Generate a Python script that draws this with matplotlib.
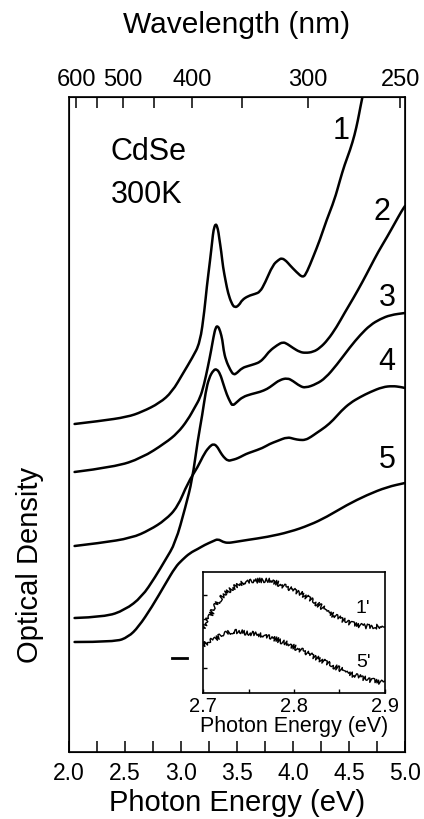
import matplotlib
matplotlib.use("Agg")
import matplotlib.pyplot as plt
from matplotlib.ticker import MultipleLocator, FixedLocator, FormatStrFormatter
from matplotlib.path import Path
from matplotlib.patches import PathPatch

plt.rcParams['font.family'] = ['Liberation Sans', 'DejaVu Sans']

# absorption spectra, photon energy (eV) vs optical density (offset, arb. units)
e1 = [2.05, 2.28, 2.52, 2.65, 2.81, 2.92, 3.02, 3.10, 3.17, 3.21, 3.23, 3.26, 3.28, 3.29,
      3.31, 3.33, 3.34, 3.36, 3.375, 3.40, 3.42, 3.45, 3.48, 3.52, 3.545, 3.60, 3.66, 3.705, 3.75,
      3.82, 3.87, 3.90, 3.94, 3.97, 4.03, 4.09, 4.125, 4.18, 4.24, 4.30, 4.37, 4.42, 4.46, 4.51,
      4.55, 4.58, 4.60, 4.62]
od1 = [3.28, 3.31, 3.35, 3.40, 3.49, 3.60, 3.79, 3.94, 4.09, 4.42, 4.65, 4.92, 5.12, 5.22,
       5.29, 5.23, 5.15, 5.00, 4.85, 4.70, 4.59, 4.49, 4.44, 4.47, 4.52, 4.56, 4.58, 4.60, 4.69,
       4.87, 4.92, 4.94, 4.91, 4.87, 4.80, 4.74, 4.80, 4.95, 5.12, 5.32, 5.52, 5.72, 5.87, 6.02,
       6.17, 6.32, 6.44, 6.55]

e2 = [2.05, 2.41, 2.65, 2.86, 2.97, 3.06, 3.125, 3.17, 3.205, 3.24, 3.27, 3.29, 3.31, 3.33, 3.35,
      3.37, 3.38, 3.40, 3.44, 3.47, 3.50, 3.545, 3.60, 3.66, 3.705, 3.75, 3.79, 3.86, 3.91, 3.95,
      4.00, 4.06, 4.11, 4.18, 4.24, 4.31, 4.39, 4.46, 4.54, 4.62, 4.69, 4.76, 4.84, 4.91, 4.97, 5.00]
od2 = [2.80, 2.85, 2.94, 3.09, 3.19, 3.32, 3.45, 3.54, 3.67, 3.85, 4.02, 4.15, 4.25, 4.26, 4.21,
       4.12, 4.02, 3.92, 3.82, 3.77, 3.79, 3.84, 3.86, 3.88, 3.90, 3.95, 4.01, 4.07, 4.10, 4.08,
       4.04, 4.00, 3.99, 4.00, 4.04, 4.12, 4.25, 4.39, 4.54, 4.70, 4.85, 5.00, 5.15, 5.29, 5.41, 5.46]

e3 = [2.05, 2.32, 2.50, 2.65, 2.77, 2.86, 2.95, 3.04, 3.10, 3.15, 3.19, 3.22, 3.25, 3.29, 3.32,
      3.35, 3.375, 3.41, 3.44, 3.46, 3.50, 3.55, 3.63, 3.705, 3.77, 3.82, 3.88, 3.95, 4.00, 4.06,
      4.11, 4.21, 4.29, 4.39, 4.51, 4.60, 4.69, 4.78, 4.87, 5.00]
od3 = [1.34, 1.35, 1.42, 1.55, 1.75, 1.92, 2.09, 2.45, 2.72, 3.12, 3.37, 3.60, 3.74, 3.82, 3.83,
       3.78, 3.69, 3.57, 3.50, 3.46, 3.50, 3.55, 3.58, 3.60, 3.63, 3.67, 3.72, 3.74, 3.71, 3.66,
       3.64, 3.68, 3.74, 3.87, 4.05, 4.17, 4.27, 4.33, 4.37, 4.39]

e4 = [2.05, 2.28, 2.56, 2.72, 2.86, 2.97, 3.06, 3.15, 3.21, 3.26, 3.29, 3.32, 3.35, 3.38, 3.42,
      3.455, 3.49, 3.53, 3.58, 3.63, 3.73, 3.79, 3.86, 3.95, 4.01, 4.06, 4.11, 4.16, 4.21, 4.29,
      4.36, 4.43, 4.51, 4.60, 4.69, 4.80, 4.89, 4.96, 5.00]
od4 = [2.06, 2.09, 2.14, 2.22, 2.32, 2.45, 2.69, 2.85, 2.99, 3.06, 3.08, 3.06, 3.00, 2.95, 2.91,
       2.92, 2.93, 2.95, 2.98, 3.00, 3.04, 3.08, 3.11, 3.15, 3.13, 3.12, 3.12, 3.15, 3.19, 3.25,
       3.32, 3.41, 3.49, 3.55, 3.60, 3.65, 3.66, 3.65, 3.64]

e5 = [2.05, 2.41, 2.53, 2.62, 2.74, 2.86, 2.95, 3.01, 3.08, 3.15, 3.21, 3.29, 3.33, 3.375, 3.42,
      3.48, 3.59, 3.77, 3.97, 4.15, 4.30, 4.48, 4.66, 4.84, 5.00]
od5 = [1.10, 1.10, 1.15, 1.25, 1.45, 1.68, 1.85, 1.92, 1.99, 2.03, 2.07, 2.11, 2.13, 2.10, 2.09,
       2.10, 2.12, 2.15, 2.20, 2.27, 2.35, 2.47, 2.57, 2.65, 2.69]

# inset: spectra 1' and 5' near the band edge
ei1 = [2.700, 2.708, 2.719, 2.730, 2.744, 2.755, 2.766, 2.777, 2.788, 2.807, 2.821, 2.832, 2.843,
       2.854, 2.865, 2.876, 2.887, 2.900]
yi1 = [2.63, 3.16, 3.86, 4.23, 4.48, 4.56, 4.60, 4.56, 4.36, 4.07, 3.74, 3.45, 3.16, 2.96, 2.79,
       2.71, 2.67, 2.75]
ei5 = [2.700, 2.719, 2.733, 2.752, 2.777, 2.796, 2.821, 2.843, 2.865, 2.884, 2.900]
yi5 = [1.93, 2.30, 2.51, 2.42, 2.22, 1.93, 1.48, 1.07, 0.70, 0.49, 0.37]

curves = [(e1, od1), (e2, od2), (e3, od3), (e4, od4), (e5, od5)]
labels = ['1', '2', '3', '4', '5']
label_e = [4.43, 4.79, 4.84, 4.84, 4.84]
label_od = [6.21, 5.40, 4.54, 3.90, 2.92]

wl_major = [600, 500, 400, 300, 250]
wl_minor = [550, 450, 350]

scale_bar_e = [2.92, 3.05]
scale_bar_od = [0.94, 0.94]


def smooth_path(xs, ys):
    # quadratic bezier through the midpoints, data points act as control points
    verts = [(xs[0], ys[0])]
    codes = [Path.MOVETO]
    for i in range(1, len(xs) - 1):
        verts.append((xs[i], ys[i]))
        verts.append(((xs[i] + xs[i + 1]) / 2, (ys[i] + ys[i + 1]) / 2))
        codes += [Path.CURVE3, Path.CURVE3]
    verts.append((xs[-1], ys[-1]))
    codes.append(Path.LINETO)
    return Path(verts, codes)


fig = plt.figure(figsize=(4.24, 8.19), dpi=100)
ax = fig.add_axes([0.1627, 0.0818, 0.7925, 0.7998])

for e, od in curves:
    ax.add_patch(PathPatch(smooth_path(e, od), facecolor='none', edgecolor='black', lw=1.8,
                           capstyle='round', joinstyle='round'))
for lab, x, y in zip(labels, label_e, label_od):
    ax.text(x, y, lab, fontsize=22, ha='center', va='center')
ax.plot(scale_bar_e, scale_bar_od, color='black', lw=2)

ax.text(2.37, 6.00, 'CdSe', fontsize=22, va='center')
ax.text(2.37, 5.57, '300K', fontsize=22, va='center')

ax.set_xlim(2.0, 5.0)
ax.set_ylim(0, 6.55)
ax.set_yticks([])
ax.xaxis.set_major_locator(MultipleLocator(0.5))
ax.xaxis.set_minor_locator(MultipleLocator(0.25))
ax.xaxis.set_major_formatter(FormatStrFormatter('%.1f'))
ax.tick_params(axis='x', which='both', direction='in', length=8, width=1.1, labelsize=16.5, pad=7)
for sp in ax.spines.values():
    sp.set_linewidth(1.2)

# wavelength axis on top
ax2 = ax.twiny()
ax2.set_xlim(2.0, 5.0)
ax2.set_xticks([1239.84 / w for w in wl_major])
ax2.set_xticklabels([str(w) for w in wl_major])
ax2.xaxis.set_minor_locator(FixedLocator([1239.84 / w for w in wl_minor]))
ax2.tick_params(axis='x', which='both', direction='in', length=8, width=1.1, labelsize=17, pad=4)

fig.text(0.559, 1 - 25 / 819, 'Wavelength (nm)', fontsize=21.5, ha='center', va='center')
fig.text(0.559, 1 - 803 / 819, 'Photon Energy (eV)', fontsize=21, ha='center', va='center')
fig.text(30 / 424, 1 - 565 / 819, 'Optical Density', fontsize=21, ha='center', va='center',
         rotation=90)

# inset
ins = fig.add_axes([0.4788, 0.1538, 0.4292, 0.1477])
for e, y in [(ei1, yi1), (ei5, yi5)]:
    ln, = ins.plot(e, y, color='black', lw=1.0)
    ln.set_sketch_params(scale=2.4, length=1.0, randomness=3)
ins.text(2.876, 3.45, "1'", fontsize=14, ha='center', va='center')
ins.text(2.876, 1.20, "5'", fontsize=14, ha='center', va='center')
ins.set_xlim(2.7, 2.9)
ins.set_ylim(-0.04, 4.93)
ins.set_xticks([2.7, 2.8, 2.9])
ins.xaxis.set_minor_locator(FixedLocator([2.75, 2.85]))
ins.set_yticks([1, 2, 3, 4])
ins.set_yticklabels([])
ins.tick_params(axis='both', which='both', direction='in', length=3, width=1, labelsize=14.5, pad=3)
ins.set_xlabel('Photon Energy (eV)', fontsize=15.5, labelpad=0)
for sp in ins.spines.values():
    sp.set_linewidth(1.2)

fig.savefig('out.png', dpi=100)
